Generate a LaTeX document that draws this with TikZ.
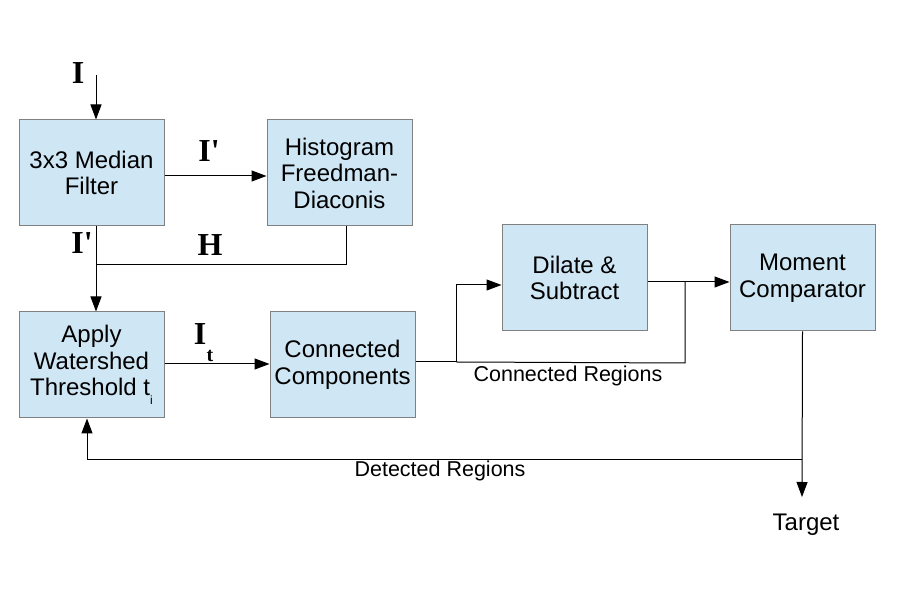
\documentclass[tikz,border=0pt]{standalone}
\usepackage{fontspec}
\setmainfont{Liberation Sans}
\newfontfamily\serifbf{Liberation Serif}
\usetikzlibrary{arrows.meta}
\definecolor{boxfill}{HTML}{CFE6F4}
\definecolor{boxline}{HTML}{808080}
\begin{document}
\begin{tikzpicture}[x=1pt,y=1pt,
  blk/.style={draw=boxline,fill=boxfill,line width=1pt,minimum width=145pt,minimum height=106pt,inner sep=0pt,align=center,font=\fontsize{24}{26.5}\selectfont},
  conn/.style={line width=1pt,draw=black},
  arr/.style={conn,-{Triangle[length=15pt,width=11pt]}},
  sym/.style={font=\serifbf\bfseries\fontsize{32}{32}\selectfont,inner sep=0pt},
  lbl/.style={font=\fontsize{21.5}{24}\selectfont,inner sep=0pt}]
\useasboundingbox (0,0) rectangle (897,599);
\node[blk] (med) at (91.5,426) {3x3 Median\\Filter};
\node[blk] (hist) at (339.5,426) {Histogram\\Freedman-\\Diaconis};
\node[blk] (ws) at (91.5,234) {Apply\\Watershed\\Threshold t\raisebox{-9pt}{\fontsize{12}{12}\selectfont i}};
\node[blk] (cc) at (342.5,234) {Connected\\Components};
\node[blk] (dil) at (574.5,321) {Dilate \&\\Subtract};
\node[blk] (mom) at (802.5,321) {Moment\\Comparator};
\coordinate (inI) at (96,524);
\coordinate (jH) at (96,334);
\coordinate (sp) at (456,237);
\coordinate (cr) at (685,236);
\coordinate (dout) at ([yshift=-4pt]dil.east);
\coordinate (det) at (802,139);
\coordinate (tgtA) at (802,102);
\node[sym] (lI) at (78,526) {I};
\node[sym] (lIp1) at (209,448) {I'};
\node[sym] (lIp2) at (82,356) {I'};
\node[sym] (lH) at (210,354) {H};
\node[sym] (lIt) at (200,265) {I};
\node[font=\serifbf\bfseries\fontsize{20}{20}\selectfont,inner sep=0pt] (lt) at (210,243) {t};
\node[lbl] (lcr) at (568,223) {Connected Regions};
\node[lbl] (ldr) at (440,128) {Detected Regions};
\node[font=\fontsize{24}{26}\selectfont,inner sep=0pt] (tgt) at (806,74) {Target};
\draw[arr] (inI) -- (inI |- med.north);
\draw[arr] ([yshift=-3pt]med.east) -- ([yshift=-3pt]hist.west);
\draw[arr] ([xshift=4.5pt]med.south) -- ([xshift=4.5pt]ws.north);
\draw[conn] ([xshift=6.5pt]hist.south) |- (jH);
\draw[arr] ([yshift=1pt]ws.east) -- ([yshift=1pt]cc.west);
\draw[conn] ([yshift=3pt]cc.east) -- (sp);
\draw[arr] (sp) |- ([yshift=-7pt]dil.west);
\draw[conn] (sp) -- (cr) -- (cr |- dout);
\draw[arr] (dout) -- (dout -| mom.west);
\draw[arr] (mom.south) -- (tgtA);
\draw[arr] (det) -| ([xshift=-4.5pt]ws.south);
\end{tikzpicture}
\end{document}
